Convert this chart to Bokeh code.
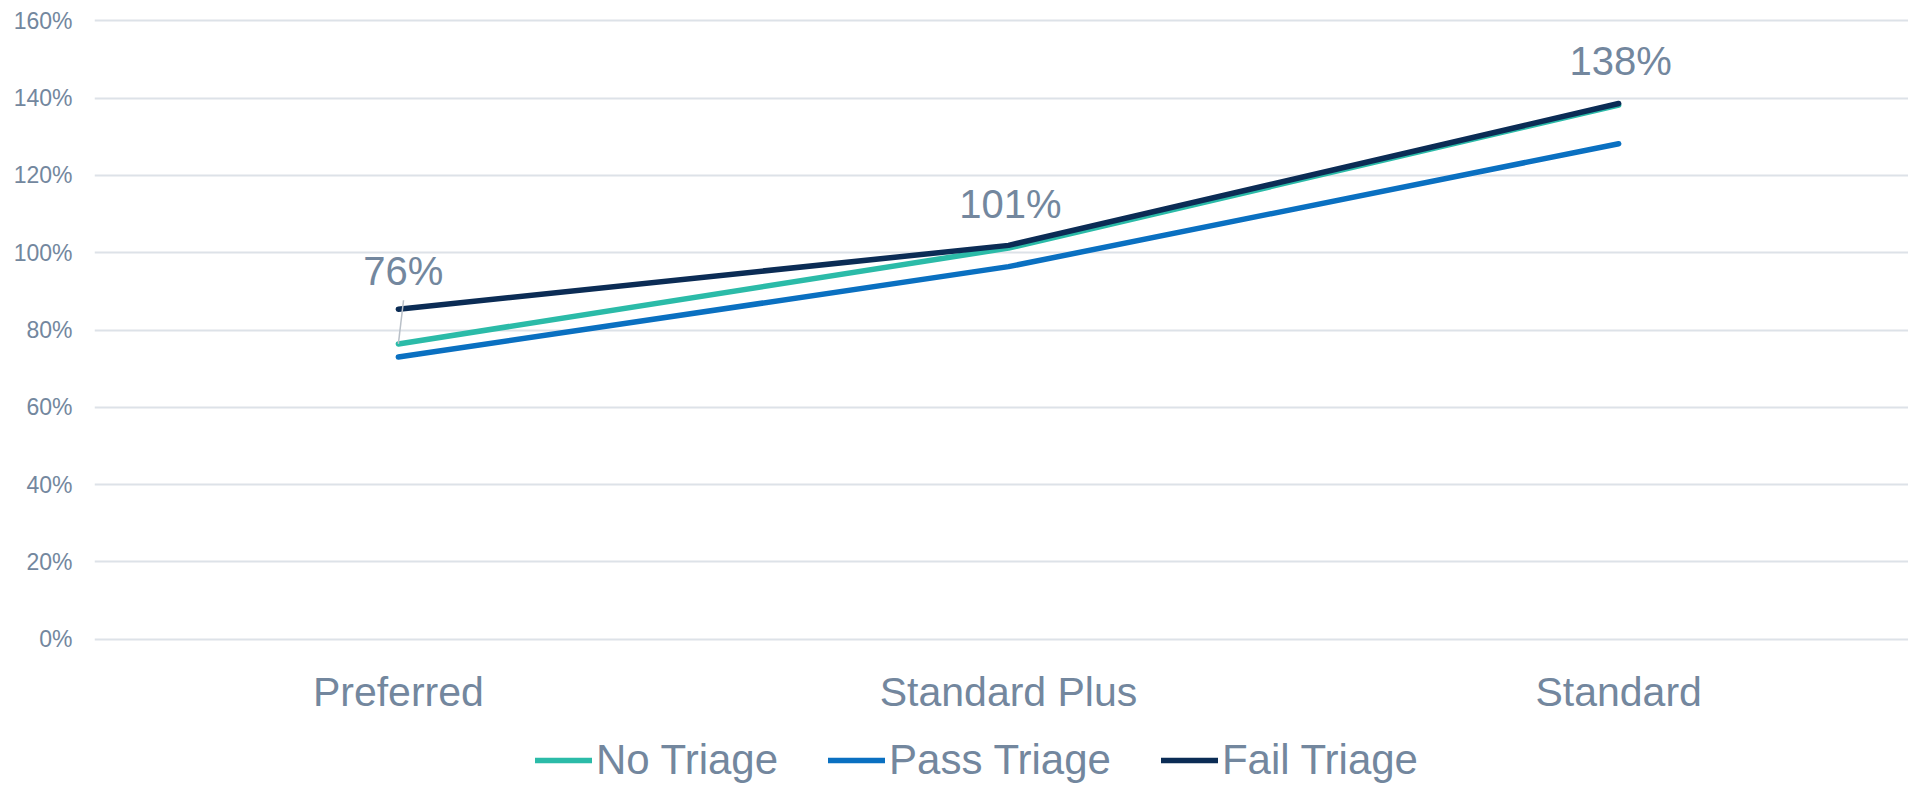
from bokeh.plotting import figure
from bokeh.models import (Range1d, FixedTicker, PrintfTickFormatter, Legend, LegendItem,
                          Label, Segment, ColumnDataSource)
from bokeh.embed import file_html
from bokeh.resources import INLINE

# ---- data ----
categories = ["Preferred", "Standard Plus", "Standard"]
no_triage = [76.4, 101.2, 138.2]
pass_triage = [73.0, 96.4, 128.2]
fail_triage = [85.4, 101.9, 138.6]
label_text = ["76%", "101%", "138%"]
y_ticks = [0, 20, 40, 60, 80, 100, 120, 140, 160]

# ---- styles ----
FONT = "Liberation Sans"
TXT = "#73879e"
C_NO = "#2bbba8"
C_PASS = "#0a70c1"
C_FAIL = "#0b2c55"
GRID = "#dde2e8"

xs = list(range(len(categories)))

# frame spans the whole height; the area below 0% holds category labels and legend
p = figure(frame_width=1814, frame_height=767,
           output_backend="svg", toolbar_location=None,
           x_range=Range1d(-0.498, 2.475), y_range=Range1d(-37.85, 160.6),
           min_border_left=94, min_border_right=0, min_border_top=18, min_border_bottom=0)
p.outline_line_color = None
p.background_fill_color = "white"
p.border_fill_color = "white"

# axes
p.xaxis.ticker = FixedTicker(ticks=xs)
p.xaxis.major_label_overrides = {i: c for i, c in enumerate(categories)}
p.xaxis.major_label_text_font = FONT
p.xaxis.major_label_text_font_size = "41px"
p.xaxis.major_label_text_color = TXT
p.xaxis.major_label_standoff = -117
p.xaxis.axis_line_color = None
p.xaxis.major_tick_line_color = None
p.xaxis.minor_tick_line_color = None
p.xaxis.major_tick_out = 0
p.xaxis.major_tick_in = 0

p.yaxis.ticker = FixedTicker(ticks=y_ticks)
p.yaxis.formatter = PrintfTickFormatter(format="%d%%")
p.yaxis.major_label_text_font = FONT
p.yaxis.major_label_text_font_size = "23px"
p.yaxis.major_label_text_color = TXT
p.yaxis.major_label_standoff = 22
p.yaxis.axis_line_color = None
p.yaxis.major_tick_line_color = None
p.yaxis.minor_tick_line_color = None
p.yaxis.major_tick_out = 0
p.yaxis.major_tick_in = 0

p.xgrid.grid_line_color = None
p.ygrid.grid_line_color = GRID
p.ygrid.grid_line_width = 2

# lines
r_no = p.line(xs, no_triage, line_color=C_NO, line_width=5.5, line_cap="round", line_join="round")
r_pass = p.line(xs, pass_triage, line_color=C_PASS, line_width=5.5, line_cap="round", line_join="round")
r_fail = p.line(xs, fail_triage, line_color=C_FAIL, line_width=5.5, line_cap="round", line_join="round")

# data labels (No Triage series)
label_offsets = [73, 44, 44]
label_dx = [5, 2, 2]
for i, (x, v, t) in enumerate(zip(xs, no_triage, label_text)):
    p.add_layout(Label(x=x, y=v, text=t, x_offset=label_dx[i], y_offset=label_offsets[i],
                       text_align="center", text_baseline="alphabetic",
                       text_font=FONT, text_font_size="40px", text_color=TXT))

# leader line for the first label
lead_src = ColumnDataSource(dict(x0=[xs[0]], y0=[no_triage[0]],
                                 x1=[xs[0] + 0.0085], y1=[no_triage[0] + 11.3]))
p.add_glyph(lead_src, Segment(x0="x0", y0="y0", x1="x1", y1="y1",
                              line_color="#b9c0c8", line_width=1.5))

legend = Legend(items=[LegendItem(label="No Triage", renderers=[r_no]),
                       LegendItem(label="Pass Triage", renderers=[r_pass]),
                       LegendItem(label="Fail Triage", renderers=[r_fail])],
                orientation="horizontal", location=(441, 1),
                label_text_font=FONT, label_text_font_size="42px", label_text_color=TXT,
                glyph_width=57, glyph_height=20, label_height=20, label_standoff=4, spacing=50,
                border_line_color=None, background_fill_alpha=0,
                padding=0, margin=0)
p.add_layout(legend)

open("out.html", "w").write(file_html(p, INLINE))
